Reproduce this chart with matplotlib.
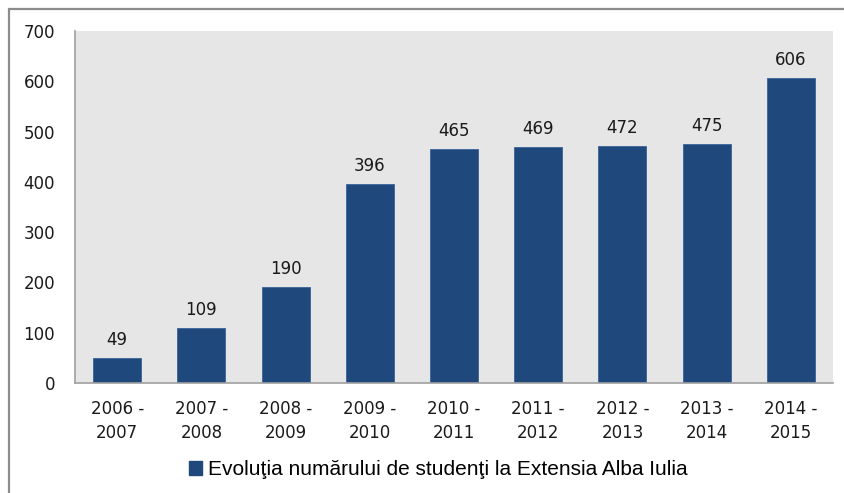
import matplotlib
matplotlib.use("Agg")
import matplotlib.pyplot as plt
from matplotlib.patches import Rectangle, Patch

categories = ["2006 -\n2007", "2007 -\n2008", "2008 -\n2009", "2009 -\n2010", "2010 -\n2011",
              "2011 -\n2012", "2012 -\n2013", "2013 -\n2014", "2014 -\n2015"]
students = [49, 109, 190, 396, 465, 469, 472, 475, 606]
series_label = "Evoluţia numărului de studenţi la Extensia Alba Iulia"

bar_color = "#1F497D"
tick_font = "DejaVu Sans"
fs = 12

fig = plt.figure(figsize=(8.45, 4.93), dpi=100)
ax = fig.add_axes([0.0888, 0.2231, 0.8970, 0.7140])
ax.set_facecolor("#E6E6E6")

x = range(len(categories))
bars = ax.bar(x, students, width=0.57, color=bar_color, edgecolor="#3A6298", linewidth=0.6)
for b, v in zip(bars, students):
    ax.text(b.get_x() + b.get_width() / 2, v + 18, str(v), ha="center", va="bottom",
            fontsize=fs, family=tick_font, color="#1a1a1a")

ax.set_xlim(-0.5, len(categories) - 0.5)
ax.set_ylim(0, 700)
ax.set_yticks(range(0, 701, 100))
ax.set_xticks(list(x))
ax.set_xticklabels(categories, fontsize=fs, family=tick_font, color="#1a1a1a", linespacing=1.45)
ax.tick_params(axis="y", labelsize=fs, length=0, pad=14.5, labelcolor="#1a1a1a")
ax.tick_params(axis="x", length=0, pad=12)
for lab in ax.get_yticklabels():
    lab.set_family(tick_font)

for s in ["top", "right"]:
    ax.spines[s].set_visible(False)
ax.spines["left"].set_color("#A0A0A0")
ax.spines["bottom"].set_color("#A0A0A0")
ax.spines["left"].set_linewidth(1.2)
ax.spines["bottom"].set_linewidth(1.2)

handle = Patch(facecolor=bar_color, edgecolor=bar_color)
fig.legend([handle], [series_label], loc="center", bbox_to_anchor=(0.519, 0.047),
           frameon=False, prop={"family": "Liberation Sans", "size": 15},
           handlelength=0.6, handleheight=0.6, handletextpad=0.3)

# outer frame of the chart
fig.patches.append(Rectangle((9 / 845, -0.1), 1.2, 1.0 - 9 / 493 + 0.1, transform=fig.transFigure,
                             fill=False, edgecolor="#8C8C8C", linewidth=1.6))

fig.savefig("out.png", dpi=100)
